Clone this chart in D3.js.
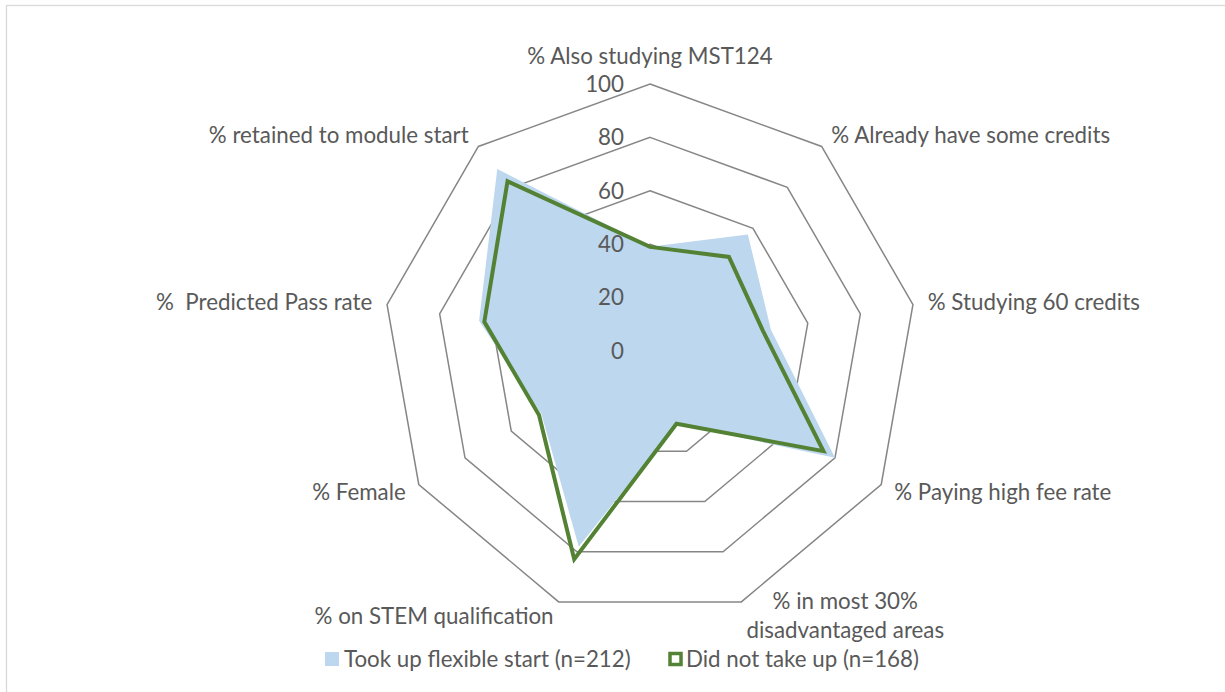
<!DOCTYPE html>
<html>
<head>
<meta charset="utf-8">
<script src="https://cdn.jsdelivr.net/npm/d3@7"></script>
<style>
  html, body { margin: 0; padding: 0; background: #ffffff; }
  svg { display: block; }
  text { white-space: pre; }
</style>
</head>
<body>
<svg id="chart" width="1225" height="692"></svg>
<script>
// ---- data ----
const categories = [
  "% Also studying MST124",
  "% Already have some credits",
  "% Studying 60 credits",
  "% Paying high fee rate",
  "% in most 30%\ndisadvantaged areas",
  "% on STEM qualification",
  "% Female",
  "%  Predicted Pass rate",
  "% retained to module start"
];
const tookUp = [39, 57, 46, 80, 29, 78, 47, 65, 89];
const didNotTakeUp = [39, 46, 43, 75, 29, 83, 48, 63, 83];
const tickValues = [0, 20, 40, 60, 80, 100];
const seriesNames = ["Took up flexible start (n=212)", "Did not take up (n=168)"];

// ---- layout ----
const W = 1225, H = 692;
const cx = 650, cy = 351, R = 267;
const textColor = "#595959";
const gridColor = "#868686";
const fillColor = "#BDD7EE";
const lineColor = "#548235";
const fontFamily = "Lato, 'Open Sans', sans-serif";

const svg = d3.select("#chart");

// border
svg.append("rect")
  .attr("x", 6.5).attr("y", 5.5)
  .attr("width", W + 20).attr("height", H + 20)
  .attr("fill", "#fff").attr("stroke", "#d9d9d9").attr("stroke-width", 1.3);

// fit font size so a reference label has the target width
const probe = svg.append("text").attr("font-family", fontFamily).attr("font-size", 20)
  .text("% Already have some credits");
const fs = 20 * 279 / probe.node().getComputedTextLength();
probe.remove();

const n = categories.length;
const angle = d3.scaleLinear().domain([0, n]).range([0, 2 * Math.PI]);
const r = d3.scaleLinear().domain([0, 100]).range([0, R]);

const g = svg.append("g").attr("transform", `translate(${cx},${cy})`);

const radial = d3.lineRadial()
  .angle((d, i) => angle(i))
  .radius(d => r(d))
  .curve(d3.curveLinearClosed);

// grid rings
g.selectAll("path.ring")
  .data(tickValues.filter(t => t > 0))
  .join("path")
  .attr("class", "ring")
  .attr("d", t => radial(d3.range(n).map(() => t)))
  .attr("fill", "none")
  .attr("stroke", gridColor)
  .attr("stroke-width", 1.5);

// series 1 : filled area
g.append("path")
  .attr("d", radial(tookUp))
  .attr("fill", fillColor)
  .attr("stroke", "none");

// series 2 : line
g.append("path")
  .attr("d", radial(didNotTakeUp))
  .attr("fill", "none")
  .attr("stroke", lineColor)
  .attr("stroke-width", 4)
  .attr("stroke-linejoin", "miter")
  .attr("stroke-miterlimit", 3);

// tick labels
g.selectAll("text.tick")
  .data(tickValues)
  .join("text")
  .attr("class", "tick")
  .attr("x", -26)
  .attr("y", t => -r(t))
  .attr("dy", "0.35em")
  .attr("text-anchor", "end")
  .attr("font-family", fontFamily)
  .attr("font-size", fs)
  .attr("fill", textColor)
  .text(t => t);

// category labels
const lineH = fs * 1.3;
categories.forEach((label, i) => {
  const a = angle(i);
  const s = Math.sin(a), c = Math.cos(a);
  const px = (R + 15) * s;
  let py = -(R + 15) * c;
  const lines = label.split("\n");
  const t = g.append("text")
    .attr("font-family", fontFamily)
    .attr("font-size", fs)
    .attr("fill", textColor);
  const blockH = lines.length * lineH;
  if (c > 0.99) py -= blockH / 2 - 2;
  const tspans = lines.map((ln, k) => t.append("tspan").text(ln));
  const widths = tspans.map(ts => ts.node().getComputedTextLength());
  const bw = d3.max(widths);
  let left;
  if (s > 0.1) left = px;
  else if (s < -0.1) left = px - bw;
  else left = px - bw / 2;
  const y0 = py - blockH / 2 + lineH / 2;
  tspans.forEach((ts, k) => {
    ts.attr("x", left + bw / 2)
      .attr("y", y0 + k * lineH)
      .attr("dy", "0.35em")
      .attr("text-anchor", "middle");
  });
});

// legend
const legY = 659;
const leg = svg.append("g");
leg.append("rect")
  .attr("x", 325).attr("y", legY - 7).attr("width", 14).attr("height", 14)
  .attr("fill", fillColor);
leg.append("text")
  .attr("x", 344).attr("y", legY).attr("dy", "0.35em")
  .attr("font-family", fontFamily).attr("font-size", fs).attr("fill", textColor)
  .text(seriesNames[0]);
leg.append("rect")
  .attr("x", 670).attr("y", legY - 5.5).attr("width", 11).attr("height", 11)
  .attr("fill", "#fff").attr("stroke", lineColor).attr("stroke-width", 3.5);
leg.append("text")
  .attr("x", 686).attr("y", legY).attr("dy", "0.35em")
  .attr("font-family", fontFamily).attr("font-size", fs).attr("fill", textColor)
  .text(seriesNames[1]);
</script>
</body>
</html>
